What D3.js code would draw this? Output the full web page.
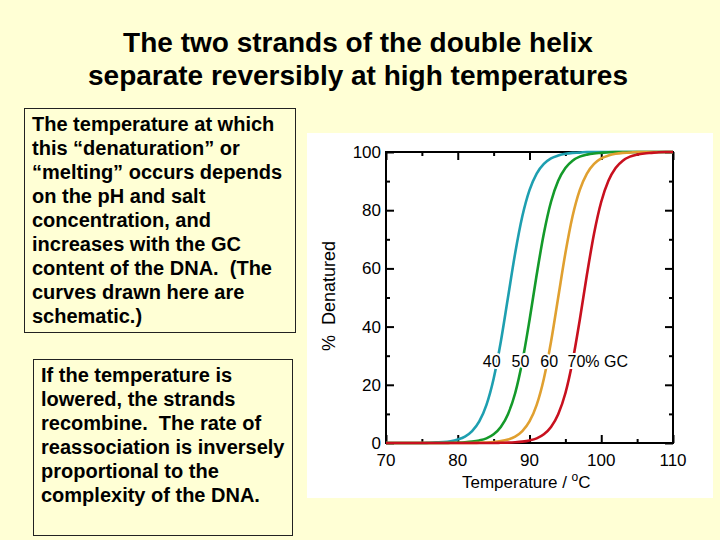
<!DOCTYPE html>
<html>
<head>
<meta charset="utf-8">
<script src="https://cdn.jsdelivr.net/npm/d3@7"></script>
<style>
  html, body { margin: 0; padding: 0; background: #ffffd5; }
  svg { display: block; }
</style>
</head>
<body>
<div id="container"></div>
<script>
// temperatures sampled (deg C)
const temps = d3.range(70, 111);

// % denatured, one value per temperature 70..110
const gc40 = [0, 0, 0, 0, 0, 0, 0.1, 0.2, 0.3, 0.6, 1.2, 2.2, 4.1, 7.4, 13.1, 22.1, 34.8, 50, 65.2, 77.9,
  86.9, 92.6, 95.9, 97.8, 98.8, 99.4, 99.7, 99.8, 100, 100, 100, 100, 100, 100, 100, 100, 100, 100, 100, 100, 100];
const gc50 = [0, 0, 0, 0, 0, 0, 0, 0, 0, 0.07, 0.13, 0.25, 0.47, 0.88, 1.6, 3.0, 5.5, 9.9, 17.1, 28,
  42.2, 57.8, 72, 82.9, 90.1, 94.5, 97, 98.4, 99.1, 99.5, 99.7, 99.9, 100, 100, 100, 100, 100, 100, 100, 100, 100];
const gc60 = [0, 0, 0, 0, 0, 0, 0, 0, 0, 0, 0, 0, 0, 0.1, 0.18, 0.34, 0.64, 1.2, 2.2, 4.1,
  7.4, 13.1, 22.1, 34.8, 50, 65.2, 77.9, 86.9, 92.6, 95.9, 97.8, 98.8, 99.4, 99.7, 99.8, 100, 100, 100, 100, 100, 100];
const gc70 = [0, 0, 0, 0, 0, 0, 0, 0, 0, 0, 0, 0, 0, 0, 0, 0, 0.07, 0.13, 0.25, 0.47,
  0.88, 1.6, 3.0, 5.5, 9.9, 17.1, 28, 42.2, 57.8, 72, 82.9, 90.1, 94.5, 97, 98.4, 99.1, 99.5, 99.7, 99.9, 100, 100];

const seriesNames = ["40", "50", "60", "70% GC"];
const seriesValues = [gc40, gc50, gc60, gc70];
const seriesColors = ["#1e9fb0", "#149a2a", "#e0a030", "#c8101e"];
// where each curve's label sits (temperature, %)
const labelTemp = [83.5, 87.5, 91.5, 95.3];
const labelPct = 26;

const xTicks = [70, 80, 90, 100, 110];
const yTicks = [0, 20, 40, 60, 80, 100];
const minorX = [75, 85, 95, 105];
const minorY = [10, 30, 50, 70, 90];

const titleLines = ["The two strands of the double helix", "separate reversibly at high temperatures"];
const box1Lines = ["The temperature at which", "this \u201cdenaturation\u201d or", "\u201cmelting\u201d occurs depends",
  "on the pH and salt", "concentration, and", "increases with the GC", "content of the DNA.  (The",
  "curves drawn here are", "schematic.)"];
const box2Lines = ["If the temperature is", "lowered, the strands", "recombine.  The rate of",
  "reassociation is inversely", "proportional to the", "complexity of the DNA."];

const width = 720;
const height = 540;

const svg = d3.select("#container").append("svg")
    .attr("width", width)
    .attr("height", height)
    .style("font-family", "Liberation Sans, Arial, sans-serif");

svg.append("rect")
    .attr("width", width)
    .attr("height", height)
    .attr("fill", "#ffffd5");

// title
svg.append("g").selectAll("text")
  .data(titleLines)
  .join("text")
    .attr("x", 358)
    .attr("y", (d, i) => 52 + i * 33)
    .attr("text-anchor", "middle")
    .attr("font-size", 28)
    .attr("font-weight", "bold")
    .attr("fill", "#000")
    .text(d => d);

// text boxes
function textBox(lines, bx, by, bw, bh, tx, ty) {
  svg.append("rect")
      .attr("x", bx + 0.5)
      .attr("y", by + 0.5)
      .attr("width", bw)
      .attr("height", bh)
      .attr("fill", "none")
      .attr("stroke", "#222")
      .attr("stroke-width", 1);
  svg.append("g").selectAll("text")
    .data(lines)
    .join("text")
      .attr("x", tx)
      .attr("y", (d, i) => ty + i * 24)
      .attr("font-size", 20)
      .attr("font-weight", "bold")
      .attr("fill", "#000")
      .style("white-space", "pre")
      .text(d => d);
}
textBox(box1Lines, 24, 108, 271, 224, 32, 131);
textBox(box2Lines, 33, 359, 259, 176, 41, 382);

// chart panel
svg.append("rect")
    .attr("x", 307)
    .attr("y", 133)
    .attr("width", 406)
    .attr("height", 365)
    .attr("fill", "#ffffff");

const plotLeft = 386, plotRight = 673, plotTop = 152, plotBottom = 443;

const x = d3.scaleLinear().domain([70, 110]).range([plotLeft, plotRight]);
const y = d3.scaleLinear().domain([0, 100]).range([plotBottom, plotTop]);

// inward ticks on all four sides
function ticks(makeAxis, pos) {
  const g = svg.append("g").attr("transform", pos);
  const isX = makeAxis === d3.axisBottom || makeAxis === d3.axisTop;
  const scale = isX ? x : y;
  g.append("g").call(makeAxis(scale).tickValues(isX ? xTicks : yTicks)
      .tickSizeInner(-8).tickSizeOuter(0).tickFormat(""));
  g.append("g").call(makeAxis(scale).tickValues(isX ? minorX : minorY)
      .tickSizeInner(-4).tickSizeOuter(0).tickFormat(""));
  g.selectAll("path").remove();
  g.selectAll("line").attr("stroke", "#000").attr("stroke-width", 2);
}
ticks(d3.axisBottom, `translate(0,${plotBottom})`);
ticks(d3.axisTop, `translate(0,${plotTop})`);
ticks(d3.axisLeft, `translate(${plotLeft},0)`);
ticks(d3.axisRight, `translate(${plotRight},0)`);

const axisG = svg.append("g")
    .attr("font-size", 17)
    .attr("fill", "#000");

// tick labels
axisG.append("g").selectAll("text")
  .data(xTicks)
  .join("text")
    .attr("x", d => x(d))
    .attr("y", 466)
    .attr("text-anchor", "middle")
    .text(d => d);
axisG.append("g").selectAll("text")
  .data(yTicks)
  .join("text")
    .attr("x", plotLeft - 5)
    .attr("y", d => y(d) + 6)
    .attr("text-anchor", "end")
    .text(d => d);

// axis titles
const xt = axisG.append("text")
    .attr("x", 462)
    .attr("y", 488);
xt.append("tspan").text("Temperature / ");
xt.append("tspan").attr("font-size", 12).attr("dy", -7).text("o");
xt.append("tspan").attr("dy", 7).text("C");

axisG.append("text")
    .attr("transform", "translate(335,296) rotate(-90)")
    .attr("text-anchor", "middle")
    .attr("font-size", 18)
    .style("white-space", "pre")
    .text("%  Denatured");

// frame
svg.append("rect")
    .attr("x", plotLeft)
    .attr("y", plotTop)
    .attr("width", plotRight - plotLeft)
    .attr("height", plotBottom - plotTop)
    .attr("fill", "none")
    .attr("stroke", "#000")
    .attr("stroke-width", 2);

// curves, drawn over the frame
const line = d3.line()
    .x((d, i) => x(temps[i]))
    .y(d => y(d))
    .curve(d3.curveMonotoneX);

svg.append("g").selectAll("path")
  .data(seriesValues)
  .join("path")
    .attr("d", line)
    .attr("fill", "none")
    .attr("stroke", (d, i) => seriesColors[i])
    .attr("stroke-width", 2.6);

// series labels, knocked out of the curves with a white halo
svg.append("g").selectAll("text")
  .data(seriesNames)
  .join("text")
    .attr("x", (d, i) => x(labelTemp[i]))
    .attr("y", y(labelPct))
    .attr("font-size", 16)
    .attr("fill", "#000")
    .attr("stroke", "#fff")
    .attr("stroke-width", 4)
    .attr("paint-order", "stroke")
    .text(d => d);
</script>
</body>
</html>
